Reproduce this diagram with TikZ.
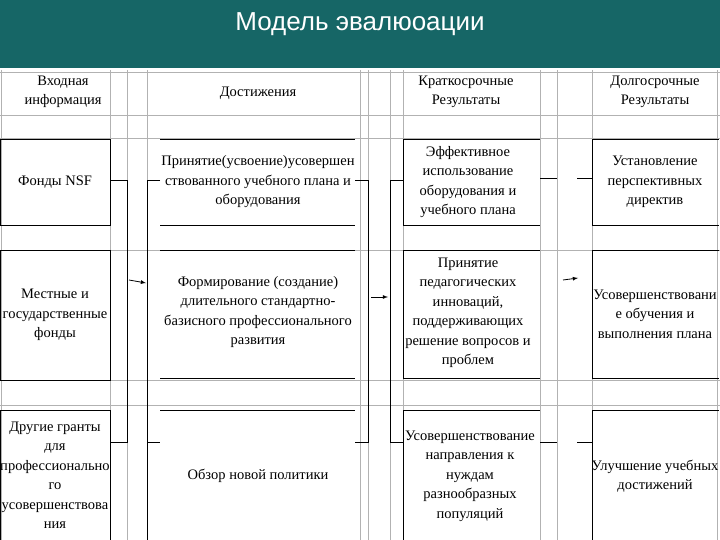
\documentclass[tikz,border=0pt]{standalone}
\usepackage{fontspec}
\setmainfont{Liberation Serif}
\newfontfamily\titlefont{Liberation Sans}
\begin{document}
\begin{tikzpicture}[x=1pt,y=-1pt,
  txt/.style={align=center,font=\fontsize{14.5}{19.5}\selectfont,inner sep=0pt},
  bx/.style={draw=black,line width=0.9pt},
  blk/.style={draw=black,line width=0.9pt},
  grid/.style={draw=gray!60,line width=0.7pt},
  arr/.style={-latex,line width=0.8pt}]
\useasboundingbox (0,0) rectangle (720,540);
\fill[white] (0,0) rectangle (720,540);
% grid
\foreach \x in {1,110,127,147,360,368,390,403,540,557,592,717}
  \draw[grid] (\x,70) -- (\x,540);
\foreach \y in {72,115,138,250,380,405}
  \draw[grid] (0,\y) -- (720,\y);
% header bar
\fill[fill={rgb,255:red,22;green,102;blue,102}] (0,0) rectangle (720,68);
\node[text=white,font=\titlefont\fontsize{26}{30}\selectfont] (title) at (360,24) {Модель эвалюоации};
% headers
\node[txt] (h1) at (63,92) {Входная\\информация};
\node[txt] (h2) at (258,93) {Достижения};
\node[txt] (h3) at (466,92) {Краткосрочные\\Результаты};
\node[txt] (h4) at (655,92) {Долгосрочные\\Результаты};
% column 1
\draw[bx] (0,139) rectangle (110,225); \node[txt] (a1) at (55,182) {Фонды NSF};
\draw[bx] (0,250) rectangle (110,380); \node[txt] (a2) at (55,315) {Местные и\\государственные\\фонды};
\draw[bx] (0,410) rectangle (110,540); \node[txt] (a3) at (55,475) {Другие гранты\\для\\профессионально\\го\\усовершенствова\\ния};
% column 2
\foreach \t/\b in {139/225,250/378,410/540}{\draw[blk] (160,\t) -- (355,\t); \draw[blk] (160,\b) -- (355,\b);}
\draw[blk] (147,405)--(147,540) ;
\node[txt] (b1) at (258,182) {Принятие(усвоение)усовершен\\ствованного учебного плана и\\оборудования};
\node[txt] (b2) at (258,312) {Формирование (создание)\\длительного стандартно-\\базисного профессионального\\развития};
\node[txt] (b3) at (258,476) {Обзор новой политики};
% column 3
\draw[bx] (403,139) -- (540,139) (403,225) -- (540,225) (403,139) -- (403,225);
\draw[bx] (403,250) -- (540,250) (403,378) -- (540,378) (403,250) -- (403,378);
\draw[bx] (403,410) -- (540,410) (403,540) -- (540,540) (403,410) -- (403,540);
\node[txt] (c1) at (468,182) {Эффективное\\использование\\оборудования и\\учебного плана};
\node[txt] (c2) at (468,313) {Принятие\\педагогических\\инноваций,\\поддерживающих\\решение вопросов и\\проблем};
\node[txt] (c3) at (470,476) {Усовершенствование\\направления к\\нуждам\\разнообразных\\популяций};
% column 4
\draw[bx] (719,139) -- (592,139) -- (592,225) -- (719,225);
\draw[bx] (719,250) -- (592,250) -- (592,378) -- (719,378);
\draw[bx] (719,410) -- (592,410) -- (592,540) -- (719,540);
\node[txt] (d1) at (655,182) {Установление\\перспективных\\директив};
\node[txt] (d2) at (655,314) {Усовершенствовани\\е обучения и\\выполнения плана};
\node[txt] (d3) at (655,476) {Улучшение учебных\\достижений};
% connectors
\coordinate (p1) at (127,180); \coordinate (p2) at (127,442);
\coordinate (q1) at (147,180); \coordinate (q2) at (147,442);
\draw[blk] (110,180) -- (p1) -- (p2) -- (110,442);
\draw[blk] (160,180) -- (q1) -- (q2) -- (160,442);
\coordinate (r1) at (368,180); \coordinate (r2) at (368,442);
\coordinate (s1) at (390,180); \coordinate (s2) at (390,442);
\draw[blk] (355,180) -- (r1) -- (r2) -- (355,442);
\draw[blk] (403,180) -- (s1) -- (s2) -- (403,442);
\draw[blk] (540,178) -- (557,178) (577,178) -- (592,178);
\draw[blk] (540,442) -- (557,442) (577,442) -- (592,442);
\coordinate (u1) at (129,280); \coordinate (u2) at (146,283);
\draw[arr] (u1) -- (u2);
\coordinate (v1) at (371,297); \coordinate (v2) at (388,297);
\draw[arr] (v1) -- (v2);
\coordinate (w1) at (563,280); \coordinate (w2) at (578,278);
\draw[arr] (w1) -- (w2);
\end{tikzpicture}
\end{document}
